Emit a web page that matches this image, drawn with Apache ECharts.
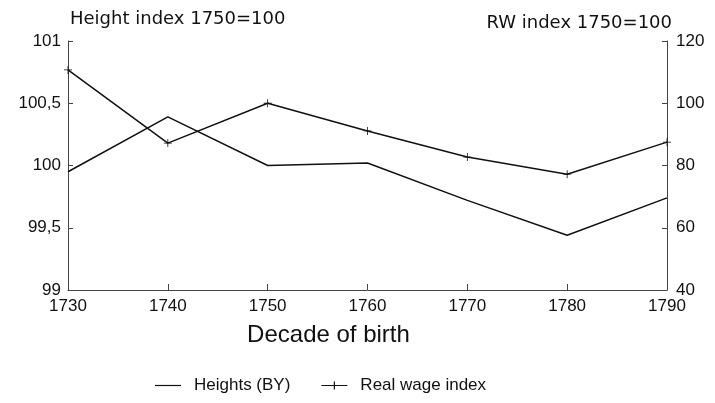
<!DOCTYPE html>
<html>
<head>
<meta charset="utf-8">
<script src="https://cdn.jsdelivr.net/npm/echarts@6/dist/echarts.min.js"></script>
<style>
html,body{margin:0;padding:0;background:#fff;}
#chart{width:715px;height:403px;}
</style>
</head>
<body>
<div id="chart"></div>
<script>
var years = ['1730', '1740', '1750', '1760', '1770', '1780', '1790'];
var heights = [99.95, 100.39, 100.0, 100.02, 99.72, 99.44, 99.74];
var realWage = [110.7, 87.2, 100.0, 91.1, 82.7, 77.2, 87.5];
var leftTicks = [99, 99.5, 100, 100.5, 101];
var rightTicks = [40, 60, 80, 100, 120];

var FONT = 'Liberation Sans';
var TFONT = 'DejaVu Sans';
var chart = echarts.init(document.getElementById('chart'), null, {renderer: 'canvas'});
var crossPath = 'path://M0,4.5L4.5,4.5L4.5,0L5.5,0L5.5,4.5L10,4.5L10,5.5L5.5,5.5L5.5,10L4.5,10L4.5,5.5L0,5.5Z';
var lineIcon = 'path://M0,4.4L26,4.4L26,5.6L0,5.6Z';
var crossIcon = 'path://M0,4.4L12.4,4.4L12.4,1L13.6,1L13.6,4.4L26,4.4L26,5.6L13.6,5.6L13.6,9L12.4,9L12.4,5.6L0,5.6Z';

chart.setOption({
  backgroundColor: '#fff',
  animation: false,
  textStyle: {fontFamily: FONT, color: '#111'},
  grid: {left: 68, right: 48, top: 41, bottom: 113},
  legend: {
    left: 150, top: 372,
    itemWidth: 26, itemHeight: 10, itemGap: 31,
    textStyle: {fontFamily: FONT, fontSize: 17, color: '#111', padding: [0, 0, 0, 8]},
    data: [
      {name: 'Heights (BY)', icon: lineIcon},
      {name: 'Real wage index', icon: crossIcon}
    ]
  },
  xAxis: {
    type: 'category',
    data: years,
    boundaryGap: false,
    name: 'Decade of birth',
    nameLocation: 'middle',
    nameGap: 33,
    nameTextStyle: {fontFamily: FONT, fontSize: 24, color: '#111', padding: [0, 78, 0, 0]},
    axisLine: {lineStyle: {color: '#444', width: 1}},
    axisTick: {inside: true, length: 6, lineStyle: {color: '#444'}},
    axisLabel: {fontFamily: FONT, fontSize: 17, color: '#111', margin: 8}
  },
  yAxis: [
    {
      type: 'value', min: leftTicks[0], max: leftTicks[leftTicks.length - 1], interval: 0.5,
      position: 'left',
      name: 'Height index 1750=100',
      nameLocation: 'end', nameGap: 13,
      nameTextStyle: {fontFamily: TFONT, fontSize: 18, color: '#111', align: 'left', padding: [0, 0, 0, 2]},
      axisLine: {show: true, lineStyle: {color: '#444', width: 1}},
      axisTick: {show: true, inside: true, length: 5, lineStyle: {color: '#444'}},
      splitLine: {show: false},
      axisLabel: {fontFamily: FONT, fontSize: 17, color: '#111', margin: 7,
        formatter: function (v) { return String(v).replace('.', ','); }}
    },
    {
      type: 'value', min: rightTicks[0], max: rightTicks[rightTicks.length - 1], interval: 20,
      position: 'right',
      name: 'RW index 1750=100',
      nameLocation: 'end', nameGap: 6,
      nameTextStyle: {fontFamily: TFONT, fontSize: 18, color: '#111', align: 'right', padding: [0, -5, 0, 0]},
      axisLine: {show: true, lineStyle: {color: '#444', width: 1}},
      axisTick: {show: true, inside: true, length: 5, lineStyle: {color: '#444'}},
      splitLine: {show: false},
      axisLabel: {fontFamily: FONT, fontSize: 17, color: '#111', margin: 9}
    }
  ],
  series: [
    {
      name: 'Heights (BY)', type: 'line', yAxisIndex: 0, data: heights,
      showSymbol: false, symbol: 'none',
      lineStyle: {color: '#111', width: 1.5},
      itemStyle: {color: '#111'}
    },
    {
      name: 'Real wage index', type: 'line', yAxisIndex: 1, data: realWage,
      symbol: crossPath, symbolSize: 8, showSymbol: true,
      lineStyle: {color: '#111', width: 1.5},
      itemStyle: {color: '#111'}
    }
  ]
});
</script>
</body>
</html>
